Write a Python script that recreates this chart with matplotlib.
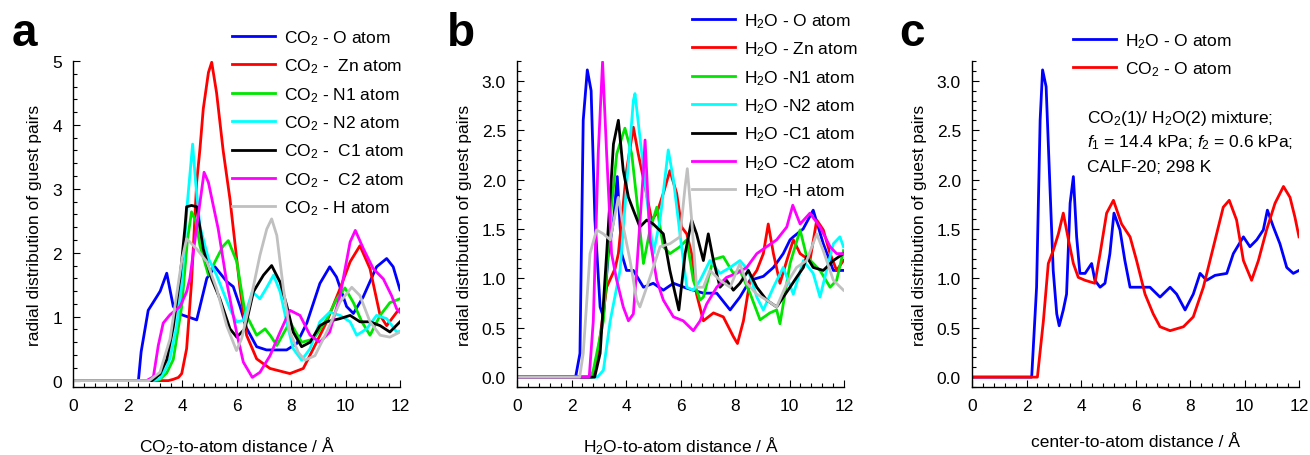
""" Radial distribution of guest pairs in CALF-20: three panels a, b, c """

import numpy as np
import matplotlib
matplotlib.use('Agg')
import matplotlib.pyplot as plt
from matplotlib.ticker import MultipleLocator, FormatStrFormatter

plt.rcParams['font.family'] = ['Liberation Sans', 'DejaVu Sans']
plt.rcParams['mathtext.fontset'] = 'custom'
plt.rcParams['mathtext.rm'] = 'Liberation Sans'
plt.rcParams['mathtext.it'] = 'Liberation Sans:italic'
plt.rcParams['mathtext.default'] = 'regular'

# ---------------- panel a : CO2 to framework atoms ----------------
a_x_O = [0, 2.4, 2.5, 2.76, 3.07, 3.2, 3.44, 3.68, 3.99, 4.54, 4.91, 5.21, 5.64, 5.88, 6.13, 6.37, 6.74, 7.1, 7.84, 8.21,
         8.58, 9.06, 9.42, 9.67, 10.04, 10.29, 10.65, 11.14, 11.51, 11.75, 12.0]
a_y_O = [0, 0, 0.45, 1.10, 1.31, 1.40, 1.68, 1.16, 1.03, 0.95, 1.6, 1.78, 1.55, 1.47, 1.16, 0.82, 0.53, 0.48, 0.48, 0.58,
         0.90, 1.52, 1.78, 1.62, 1.16, 1.05, 1.31, 1.78, 1.91, 1.78, 1.42]
a_x_Zn = [0, 3.5, 3.68, 3.87, 3.99, 4.17, 4.35, 4.54, 4.66, 4.78, 4.97, 5.09, 5.27, 5.51, 5.76, 5.94, 6.13, 6.37, 6.74, 7.23,
          7.96, 8.45, 8.82, 9.31, 9.8, 10.17, 10.53, 10.9, 11.27, 11.51, 11.88, 12]
a_y_Zn = [0, 0, 0.02, 0.05, 0.11, 0.5, 1.54, 3.11, 3.63, 4.25, 4.82, 4.98, 4.5, 3.6, 2.84, 2.16, 1.44, 0.71, 0.34, 0.19,
          0.11, 0.19, 0.50, 0.92, 1.44, 1.86, 2.11, 1.75, 1.02, 0.86, 1.07, 1.12]
a_x_N1 = [0, 3.0, 3.19, 3.44, 3.68, 3.99, 4.2, 4.35, 4.5, 4.66, 4.97, 5.27, 5.5, 5.70, 6.01, 6.31, 6.74, 7.05, 7.25, 7.48,
          7.96, 8.39, 8.82, 9.31, 9.68, 9.98, 10.29, 10.6, 10.9, 11.27, 11.63, 12]
a_y_N1 = [0, 0, 0.02, 0.12, 0.33, 1.16, 2.2, 2.64, 2.5, 2.11, 1.65, 1.91, 2.1, 2.19, 1.86, 1.07, 0.71, 0.81, 0.7, 0.55,
          0.92, 0.60, 0.65, 0.96, 1.28, 1.45, 1.22, 0.92, 0.71, 1.02, 1.22, 1.28]
a_x_N2 = [0, 2.9, 3.19, 3.44, 3.56, 3.80, 3.99, 4.2, 4.39, 4.5, 4.66, 4.97, 5.27, 5.76, 6.0, 6.25, 6.58, 6.86, 7.1, 7.36,
          7.6, 7.84, 8.08, 8.39, 8.70, 9.06, 9.42, 9.8, 10.17, 10.41, 10.78, 11.14, 11.51, 11.88, 12]
a_y_N2 = [0, 0, 0.03, 0.21, 0.35, 0.84, 1.5, 2.8, 3.70, 3.1, 2.41, 1.91, 1.65, 1.12, 0.92, 0.94, 1.39, 1.28, 1.45, 1.65,
          1.39, 0.92, 0.50, 0.32, 0.50, 0.92, 1.07, 1.02, 0.92, 0.71, 0.81, 1.02, 0.97, 0.76, 0.77]
a_x_C1 = [0, 2.9, 3.19, 3.44, 3.68, 3.93, 4.11, 4.17, 4.35, 4.54, 4.78, 5.09, 5.39, 5.76, 6.01, 6.31, 6.62, 6.99, 7.29, 7.60,
          7.84, 8.08, 8.39, 8.70, 9.06, 9.31, 9.8, 10.17, 10.53, 10.9, 11.27, 11.63, 12]
a_y_C1 = [0, 0, 0.10, 0.33, 0.84, 1.62, 2.4, 2.72, 2.74, 2.72, 2.06, 1.59, 1.28, 0.81, 0.68, 0.81, 1.39, 1.65, 1.80, 1.54,
          1.18, 0.76, 0.53, 0.60, 0.86, 0.92, 0.97, 1.02, 0.92, 0.92, 0.86, 0.76, 0.92]
a_x_C2 = [0, 2.7, 2.95, 3.13, 3.31, 3.56, 3.93, 4.17, 4.29, 4.54, 4.81, 4.97, 5.33, 5.64, 6.0, 6.25, 6.58, 6.86, 7.23, 7.6,
          7.96, 8.33, 8.70, 9.06, 9.42, 9.8, 10.17, 10.36, 10.66, 11.02, 11.39, 11.69, 11.88, 12]
a_y_C2 = [0, 0, 0.06, 0.55, 0.9, 1.03, 1.16, 1.39, 1.6, 2.41, 3.26, 3.10, 2.37, 1.54, 0.76, 0.29, 0.05, 0.13, 0.39, 0.76,
          1.10, 1.02, 0.71, 0.60, 0.76, 1.33, 2.17, 2.35, 2.06, 1.75, 1.59, 1.33, 1.12, 1.07]
a_x_H = [0, 2.8, 3.19, 3.56, 3.80, 4.0, 4.17, 4.54, 4.91, 5.27, 5.64, 6.0, 6.19, 6.5, 6.86, 7.11, 7.29, 7.48, 7.72, 7.96,
         8.27, 8.51, 8.88, 9.31, 9.8, 10.23, 10.53, 10.9, 11.27, 11.63, 12]
a_y_H = [0, 0, 0.13, 0.65, 1.33, 1.9, 2.22, 2.06, 1.86, 1.44, 0.86, 0.47, 0.66, 1.23, 1.96, 2.37, 2.53, 2.27, 1.44, 0.76,
         0.44, 0.32, 0.39, 0.76, 1.23, 1.46, 1.33, 0.92, 0.71, 0.68, 0.76]
a_labels = ['CO$_2$ - O atom', 'CO$_2$ -  Zn atom', 'CO$_2$ - N1 atom', 'CO$_2$ - N2 atom',
            'CO$_2$ -  C1 atom', 'CO$_2$ -  C2 atom', 'CO$_2$ - H atom']

# ---------------- panel b : H2O to framework atoms ----------------
b_x_O = [0, 2.15, 2.31, 2.43, 2.58, 2.72, 2.86, 3.05, 3.17, 3.35, 3.55, 3.68, 3.84, 4.02, 4.27, 4.64, 5.0, 5.37, 5.74, 6.23,
         6.84, 7.33, 7.82, 8.18, 8.55, 9.04, 9.41, 9.77, 10.02, 10.14, 10.5, 10.87, 11.24, 11.61, 11.98]
b_y_O = [0, 0, 0.24, 2.6, 3.11, 2.9, 1.59, 0.71, 0.61, 1.25, 1.6, 2.03, 1.25, 1.08, 1.08, 0.91, 0.95, 0.88, 0.95, 0.90,
         0.85, 0.85, 0.68, 0.81, 0.98, 1.02, 1.11, 1.25, 1.39, 1.42, 1.5, 1.69, 1.35, 1.08, 1.08]
b_x_Zn = [0, 2.75, 2.92, 3.29, 3.6, 3.72, 4.02, 4.27, 4.45, 4.70, 4.94, 5.13, 5.37, 5.61, 5.86, 6.04, 6.23, 6.41, 6.59, 6.84,
          7.21, 7.57, 7.94, 8.09, 8.31, 8.55, 8.80, 9.04, 9.22, 9.41, 9.65, 9.9, 10.14, 10.39, 10.75, 11.0, 11.24, 11.49, 11.73, 11.98]
b_y_Zn = [0, 0, 0.14, 0.91, 1.1, 1.25, 2.09, 2.53, 2.26, 1.93, 1.59, 1.66, 1.86, 2.09, 1.86, 1.52, 1.45, 1.25, 0.84, 0.57,
          0.65, 0.61, 0.41, 0.34, 0.57, 0.98, 1.08, 1.25, 1.55, 1.25, 0.95, 1.18, 1.39, 1.25, 1.18, 1.59, 1.49, 1.25, 1.08, 1.18]
b_x_N1 = [0, 2.7, 2.8, 3.17, 3.42, 3.66, 3.96, 4.21, 4.45, 4.64, 4.88, 5.13, 5.37, 5.61, 5.98, 6.23, 6.47, 6.72, 6.84, 7.2,
          7.57, 7.94, 8.18, 8.55, 8.92, 9.28, 9.53, 9.65, 10.02, 10.39, 10.63, 11.12, 11.49, 11.73, 11.98]
b_y_N1 = [0, 0, 0.07, 0.57, 1.59, 2.26, 2.52, 2.26, 1.66, 1.15, 1.49, 1.72, 1.32, 1.25, 1.32, 1.39, 0.98, 0.78, 0.81, 1.19,
          1.22, 1.05, 1.08, 0.85, 0.58, 0.65, 0.68, 0.54, 1.15, 1.49, 1.22, 1.08, 0.91, 0.98, 1.28]
b_x_N2 = [0, 2.95, 3.17, 3.42, 3.78, 4.02, 4.27, 4.33, 4.51, 4.76, 5.0, 5.25, 5.55, 5.74, 5.98, 6.23, 6.47, 6.72, 7.08, 7.45,
          7.82, 8.18, 8.49, 8.80, 9.04, 9.41, 9.77, 10.14, 10.51, 10.87, 11.12, 11.36, 11.61, 11.85, 11.98]
b_y_N2 = [0, 0, 0.07, 0.57, 1.08, 1.93, 2.80, 2.87, 2.43, 1.82, 1.25, 1.59, 2.30, 2.0, 1.45, 0.91, 0.88, 0.98, 1.18, 1.05,
          1.11, 1.18, 1.08, 0.81, 0.68, 0.91, 1.11, 0.84, 1.18, 1.05, 0.81, 1.08, 1.35, 1.42, 1.32]
b_x_C1 = [0, 2.85, 3.05, 3.29, 3.54, 3.72, 3.90, 4.09, 4.27, 4.51, 4.76, 5.0, 5.37, 5.61, 5.94, 6.17, 6.41, 6.59, 6.84, 7.02,
          7.21, 7.45, 7.69, 7.94, 8.18, 8.49, 8.80, 9.16, 9.53, 9.77, 10.02, 10.26, 10.51, 10.63, 10.87, 11.24, 11.61, 11.98]
b_y_C1 = [0, 0, 0.24, 1.25, 2.36, 2.60, 2.09, 1.82, 1.69, 1.52, 1.59, 1.55, 1.45, 1.08, 0.68, 1.25, 1.59, 1.45, 1.18, 1.45,
          1.18, 0.91, 0.98, 0.88, 0.95, 1.08, 0.91, 0.78, 0.71, 0.81, 0.91, 1.01, 1.11, 1.22, 1.11, 1.08, 1.18, 1.25]
b_x_C2 = [0, 2.65, 2.80, 2.98, 3.14, 3.29, 3.47, 3.66, 3.90, 4.09, 4.27, 4.39, 4.64, 4.70, 4.88, 5.13, 5.37, 5.74, 6.10, 6.47,
          6.72, 6.96, 7.33, 7.69, 8.06, 8.43, 8.80, 9.16, 9.53, 9.90, 10.12, 10.39, 10.75, 11.12, 11.49, 11.73, 11.98]
b_y_C2 = [0, 0, 0.57, 2.26, 3.19, 2.26, 1.25, 0.98, 0.71, 0.57, 0.64, 1.08, 2.09, 2.40, 1.39, 0.98, 0.78, 0.61, 0.57, 0.47,
          0.57, 0.74, 0.91, 1.01, 1.05, 1.11, 1.25, 1.32, 1.39, 1.52, 1.74, 1.55, 1.66, 1.52, 1.32, 1.25, 1.25]
b_x_H = [0, 2.3, 2.43, 2.68, 2.92, 3.17, 3.42, 3.72, 3.90, 4.15, 4.39, 4.51, 4.76, 5.0, 5.25, 5.61, 5.98, 6.17, 6.25, 6.41,
         6.59, 6.84, 7.08, 7.45, 7.82, 8.18, 8.43, 8.80, 9.16, 9.53, 9.90, 10.26, 10.63, 11.0, 11.24, 11.61, 11.98]
b_y_H = [0, 0, 0.24, 1.25, 1.49, 1.45, 1.39, 1.82, 1.52, 1.18, 0.78, 0.71, 0.91, 1.11, 1.32, 1.35, 1.42, 1.93, 2.11, 1.59,
         0.91, 0.91, 1.08, 0.98, 0.91, 1.15, 0.95, 0.84, 0.78, 0.71, 0.95, 1.11, 1.18, 1.45, 1.28, 0.98, 0.88]
b_labels = ['H$_2$O - O atom', 'H$_2$O - Zn atom', 'H$_2$O -N1 atom', 'H$_2$O -N2 atom',
            'H$_2$O -C1 atom', 'H$_2$O -C2 atom', 'H$_2$O -H atom']

# ---------------- panel c : mixture, guest centre to O atom ----------------
c_x_H2O = [0, 2.19, 2.37, 2.50, 2.59, 2.72, 2.86, 2.98, 3.11, 3.20, 3.35, 3.47, 3.60, 3.72, 3.84, 3.96, 4.15, 4.39, 4.51, 4.70,
           4.88, 5.06, 5.21, 5.43, 5.61, 5.80, 6.17, 6.53, 6.90, 7.27, 7.51, 7.82, 8.12, 8.37, 8.61, 8.92, 9.35, 9.59, 9.96, 10.20,
           10.45, 10.69, 10.84, 11.06, 11.30, 11.55, 11.79, 12.0]
c_y_H2O = [0, 0, 0.91, 2.60, 3.11, 2.94, 1.93, 1.08, 0.64, 0.52, 0.68, 0.84, 1.76, 2.03, 1.42, 1.05, 1.05, 1.15, 0.98, 0.91,
           0.95, 1.25, 1.66, 1.49, 1.18, 0.91, 0.91, 0.91, 0.81, 0.91, 0.84, 0.68, 0.84, 1.05, 0.98, 1.03, 1.05, 1.25, 1.42, 1.32,
           1.39, 1.49, 1.69, 1.52, 1.35, 1.11, 1.05, 1.08]
c_x_CO2 = [0, 2.40, 2.62, 2.80, 2.98, 3.17, 3.35, 3.54, 3.72, 3.90, 4.15, 4.51, 4.70, 4.94, 5.19, 5.49, 5.80, 6.04, 6.35, 6.65,
           6.90, 7.27, 7.76, 8.12, 8.49, 8.86, 9.22, 9.44, 9.71, 9.96, 10.26, 10.51, 10.81, 11.12, 11.43, 11.67, 11.85, 12.0]
c_y_CO2 = [0, 0, 0.57, 1.15, 1.28, 1.45, 1.66, 1.39, 1.15, 1.01, 0.98, 0.95, 1.25, 1.66, 1.79, 1.55, 1.42, 1.18, 0.84, 0.64,
           0.51, 0.47, 0.51, 0.61, 0.91, 1.32, 1.72, 1.79, 1.59, 1.18, 0.98, 1.18, 1.49, 1.76, 1.93, 1.82, 1.62, 1.42]
c_labels = ['H$_2$O - O atom', 'CO$_2$ - O atom']
c_note = ['CO$_2$(1)/ H$_2$O(2) mixture;',
          '$\\mathit{f}_1$ = 14.4 kPa; $\\mathit{f}_2$ = 0.6 kPa;',
          'CALF-20; 298 K']

colors7 = ['#0000ff', '#ff0000', '#00e600', '#00ffff', '#000000', '#ff00ff', '#c0c0c0']

W, H = 1310, 456
fs = 12.5
fig = plt.figure(figsize=(W / 100, H / 100), dpi=100)


def make_axes(left_px):
    ax = fig.add_axes([left_px / W, (H - 388) / H, 327 / W, (388 - 62) / H])
    ax.spines['top'].set_visible(False)
    ax.spines['right'].set_visible(False)
    ax.spines['left'].set_linewidth(1.0)
    ax.spines['bottom'].set_linewidth(1.0)
    ax.set_xlim(0, 12)
    ax.xaxis.set_major_locator(MultipleLocator(2))
    ax.xaxis.set_minor_locator(MultipleLocator(0.4))
    ax.tick_params(which='both', direction='in', labelsize=fs, width=0.8)
    ax.tick_params(which='major', length=5, pad=8)
    ax.tick_params(which='minor', length=3)
    ax.set_ylabel('radial distribution of guest pairs', fontsize=fs, labelpad=7)
    return ax


def put_legend(ax, x_px, top_px):
    ax.legend(loc='upper left', bbox_to_anchor=(x_px / W, 1 - top_px / H), bbox_transform=fig.transFigure,
              frameon=False, fontsize=fs, borderpad=0, borderaxespad=0, handlelength=2.45,
              handletextpad=0.55, labelspacing=0.56)


# panel a
ax1 = make_axes(73)
for xs, ys, c, lab in zip([a_x_O, a_x_Zn, a_x_N1, a_x_N2, a_x_C1, a_x_C2, a_x_H],
                          [a_y_O, a_y_Zn, a_y_N1, a_y_N2, a_y_C1, a_y_C2, a_y_H], colors7, a_labels):
    ax1.plot(xs, ys, color=c, lw=2.0, label=lab)
ax1.set_ylim(-0.1, 5.0)
ax1.yaxis.set_major_locator(MultipleLocator(1))
ax1.yaxis.set_minor_locator(MultipleLocator(0.2))
ax1.set_xlabel('CO$_2$-to-atom distance / Å', fontsize=fs, labelpad=15)
put_legend(ax1, 232, 29)

# panel b
ax2 = make_axes(517)
for xs, ys, c, lab in zip([b_x_O, b_x_Zn, b_x_N1, b_x_N2, b_x_C1, b_x_C2, b_x_H],
                          [b_y_O, b_y_Zn, b_y_N1, b_y_N2, b_y_C1, b_y_C2, b_y_H], colors7, b_labels):
    ax2.plot(xs, ys, color=c, lw=2.0, label=lab)
ax2.set_ylim(-0.1, 3.2)
ax2.yaxis.set_major_locator(MultipleLocator(0.5))
ax2.yaxis.set_minor_locator(MultipleLocator(0.1))
ax2.yaxis.set_major_formatter(FormatStrFormatter('%.1f'))
ax2.set_xlabel('H$_2$O-to-atom distance / Å', fontsize=fs, labelpad=15)
put_legend(ax2, 692, 12)

# panel c
ax3 = make_axes(972)
ax3.plot(c_x_H2O, c_y_H2O, color='#0000ff', lw=2.0, label=c_labels[0])
ax3.plot(c_x_CO2, c_y_CO2, color='#ff0000', lw=2.0, label=c_labels[1])
ax3.set_ylim(-0.1, 3.2)
ax3.yaxis.set_major_locator(MultipleLocator(0.5))
ax3.yaxis.set_minor_locator(MultipleLocator(0.1))
ax3.yaxis.set_major_formatter(FormatStrFormatter('%.1f'))
ax3.set_xlabel('center-to-atom distance / Å', fontsize=fs, labelpad=15)
put_legend(ax3, 1073, 32)
for i, line in enumerate(c_note):
    fig.text(1087 / W, 1 - (118 + 25 * i) / H, line, fontsize=fs, va='center', ha='left')

# panel letters
for x_px, letter in [(12, 'a'), (447, 'b'), (899, 'c')]:
    fig.text(x_px / W, 1 - 46 / H, letter, fontsize=33, fontweight='bold', va='baseline', ha='left')

plt.savefig('out.png', dpi=100)
